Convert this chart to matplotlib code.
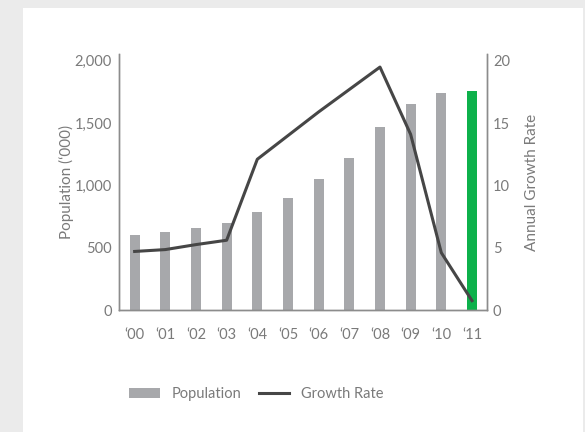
import matplotlib
matplotlib.use("Agg")
import matplotlib.pyplot as plt
from matplotlib.patches import Rectangle
from matplotlib.lines import Line2D

# ── data ──────────────────────────────────────────────
years       = ["\u201800", "\u201801", "\u201802", "\u201803", "\u201804", "\u201805",
               "\u201806", "\u201807", "\u201808", "\u201809", "\u201810", "\u201811"]
population  = [606, 630, 660, 695, 790, 898, 1050, 1223, 1467, 1657, 1738, 1760]
growth_rate = [4.7, 4.85, 5.25, 5.6, 12.1, 14.0, 15.9, 17.7, 19.5, 14.1, 4.6, 0.75]
pop_ticks   = [0, 500, 1000, 1500, 2000]
rate_ticks  = [0, 5, 10, 15, 20]

BAR_GREY  = "#a7a8ab"
GREEN     = "#0db14b"
LINE_COL  = "#464646"
TEXT_COL  = "#7a7a7a"
SPINE_COL = "#8c8c8c"

plt.rcParams["font.family"] = ["Lato", "DejaVu Sans"]

fig = plt.figure(figsize=(5.85, 4.32), dpi=100)
fig.patch.set_facecolor("#ebebeb")
# white panel
fig.patches.append(Rectangle((22.7 / 585, 0), (582.7 - 22.7) / 585, 1 - 8 / 432,
                             transform=fig.transFigure, facecolor="white",
                             edgecolor="none", zorder=-10))

ax = fig.add_axes([119.3 / 585, 1 - 310 / 432, (487.3 - 119.3) / 585, (310 - 54) / 432])
ax.set_facecolor("none")
x = list(range(len(years)))
colors = [BAR_GREY] * (len(years) - 1) + [GREEN]
ax.bar(x, population, width=0.33, color=colors, zorder=2)
ax.set_xlim(-0.5, len(years) - 0.5)
ax.set_ylim(0, 2055)
ax.set_yticks(pop_ticks)
ax.set_yticklabels([f"{v:,}" for v in pop_ticks])
ax.set_xticks(x)
ax.set_xticklabels(years)
ax.set_ylabel("Population (\u2018000)", color=TEXT_COL, fontsize=11, labelpad=0)

ax2 = ax.twinx()
ax2.plot(x, growth_rate, color=LINE_COL, linewidth=2.2, zorder=3)
ax2.set_ylim(0, 20.55)
ax2.set_yticks(rate_ticks)
ax2.set_ylabel("Annual Growth Rate", color=TEXT_COL, fontsize=11, labelpad=10.5)

for a in (ax, ax2):
    a.spines["top"].set_visible(False)
    for s in ("left", "right", "bottom"):
        a.spines[s].set_color(SPINE_COL)
        a.spines[s].set_linewidth(1.0)
    a.tick_params(length=0, colors=TEXT_COL, labelsize=10.5)
ax.tick_params(axis="x", pad=13)
ax.tick_params(axis="y", pad=5.5)
ax2.tick_params(axis="y", pad=4)

handles = [Rectangle((0, 0), 1, 1, facecolor=BAR_GREY, edgecolor="none"),
           Line2D([0], [0], color=LINE_COL, linewidth=2.2)]
fig.legend(handles, ["Population", "Growth Rate"], loc="center left",
           bbox_to_anchor=(116 / 585, 1 - 394 / 432), ncol=2, frameon=False,
           fontsize=10.5, labelcolor=TEXT_COL, handlelength=2.1, handleheight=0.75,
           handletextpad=0.8, columnspacing=1.2)

fig.savefig("out.png", dpi=100, facecolor=fig.get_facecolor())
